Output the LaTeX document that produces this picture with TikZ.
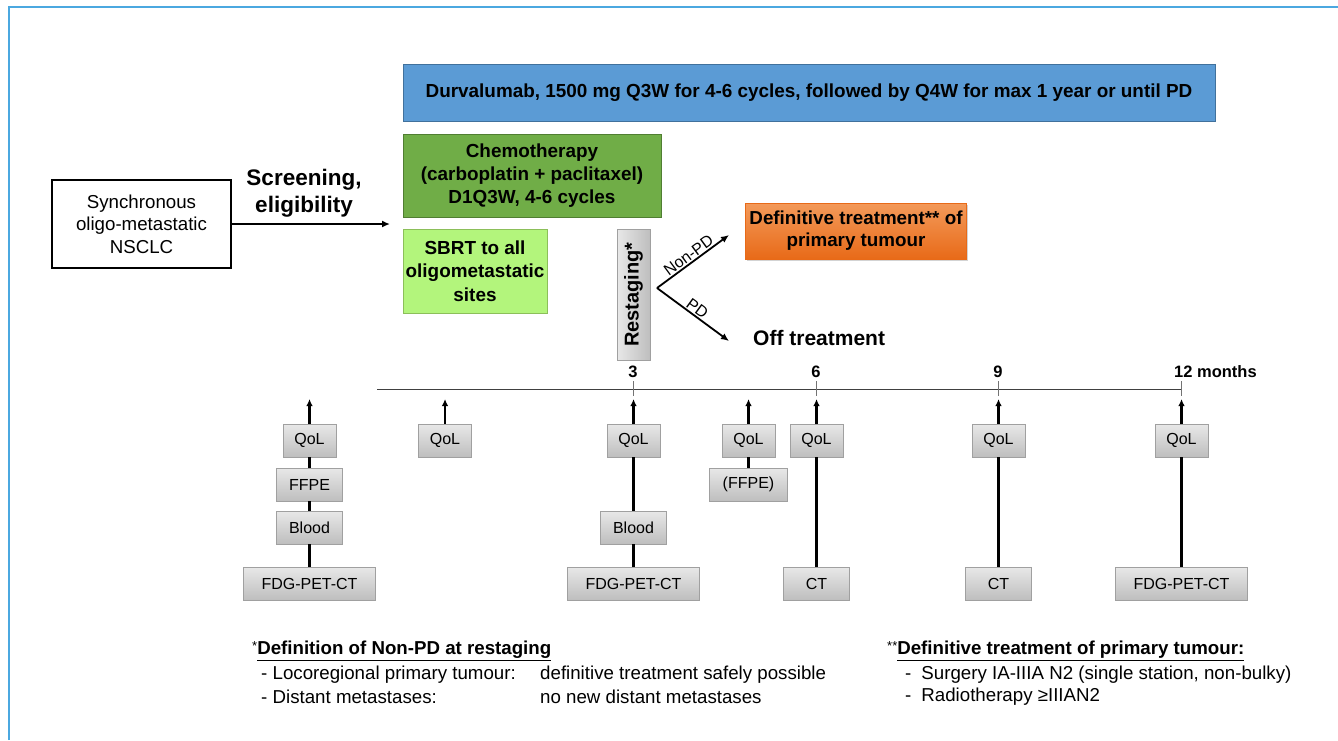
\documentclass[tikz,border=0pt]{standalone}
\usepackage{fontspec}
\setmainfont{Liberation Sans}
\usetikzlibrary{arrows.meta,shadows}
\definecolor{frameblue}{HTML}{4BA8E0}
\definecolor{durfill}{HTML}{5B9BD5}
\definecolor{durdraw}{HTML}{41719C}
\definecolor{chemofill}{HTML}{70AD47}
\definecolor{chemodraw}{HTML}{507E32}
\definecolor{sbrtfill}{HTML}{B3F57C}
\definecolor{sbrtdraw}{HTML}{8CBF5A}
\definecolor{orangetop}{HTML}{F39A5A}
\definecolor{orangebot}{HTML}{E86A18}
\definecolor{gtop}{HTML}{E8E8E8}
\definecolor{gbot}{HTML}{BEBEBE}
\definecolor{gdraw}{HTML}{A0A0A0}
\tikzset{
  colbox/.style={draw=#1, line width=0.8pt, inner sep=0pt, align=center},
  tbox/.style={draw=gdraw, line width=0.8pt, top color=gtop, bottom color=gbot, minimum height=33pt, inner sep=0pt, font=\fontsize{16}{18}\selectfont},
  conn/.style={line width=2.2pt, black},
  uparrow/.style={line width=2.2pt, black, -{Latex[length=7pt,width=6.5pt]}},
  mainarrow/.style={line width=1.8pt, black, -{Latex[length=8pt,width=7pt]}},
  fnote/.style={anchor=west, inner sep=0pt, font=\fontsize{18.7}{22}\selectfont},
  mlabel/.style={font=\bfseries\fontsize{16.5}{19}\selectfont},
  blabel/.style={midway, sloped, above, inner sep=1pt, font=\fontsize{16}{18}\selectfont},
}
\begin{document}
\begin{tikzpicture}[x=1pt,y=-1pt]
\useasboundingbox (0,0) rectangle (1338,740);
% frame
\draw[frameblue, line width=1.2pt] (9,740) -- (9,7) -- (1338,7);

% top boxes
\node[colbox=durdraw, fill=durfill, minimum width=812pt, minimum height=57pt, font=\bfseries\fontsize{18.9}{22}\selectfont] (dur) at (809,92.5) {Durvalumab, 1500 mg Q3W for 4-6 cycles, followed by Q4W for max 1 year or until PD};
\node[colbox=chemodraw, fill=chemofill, minimum width=258pt, minimum height=83pt, font=\bfseries\fontsize{18.9}{23}\selectfont] (chemo) at (532,175.5) {Chemotherapy\\(carboplatin + paclitaxel)\\D1Q3W, 4-6 cycles};
\node[colbox=sbrtdraw, fill=sbrtfill, minimum width=144pt, minimum height=84pt, font=\bfseries\fontsize{18.9}{23.5}\selectfont] (sbrt) at (475,271) {SBRT to all\\oligometastatic\\sites};
\node[draw=gdraw, line width=0.8pt, left color=gtop, right color=gbot, minimum width=33pt, minimum height=131pt, inner sep=0pt] (rest) at (633.5,294.5) {};
\node[rotate=90, font=\bfseries\fontsize{20}{23}\selectfont, inner sep=0pt] (resttext) at (rest.center) {Restaging*};
\node[colbox=orangebot, top color=orangetop, bottom color=orangebot, minimum width=221pt, minimum height=56pt, font=\bfseries\fontsize{18.8}{22}\selectfont, drop shadow={shadow xshift=1.5pt, shadow yshift=-2pt, opacity=0.35}] (defin) at (856,231) {Definitive treatment** of\\primary tumour};
\node[font=\bfseries\fontsize{21}{24}\selectfont, anchor=west, inner sep=0pt] (off) at (753,338) {Off treatment};

\node[draw=black, line width=1.4pt, minimum width=179pt, minimum height=88pt, align=center, inner sep=0pt, font=\fontsize{18.7}{22.5}\selectfont] (sync) at (141.5,224) {Synchronous\\oligo-metastatic\\NSCLC};
\coordinate (scrEnd) at (390,224);
\draw[mainarrow] (sync.east) -- (scrEnd);
\node[font=\bfseries\fontsize{22.5}{27}\selectfont, align=center, inner sep=0pt] (scr) at (304,193) {Screening,\\eligibility};

% branch
\coordinate (br) at (657,288);
\coordinate (npEnd) at (729,235);
\coordinate (pdEnd) at (729,341);
\draw[mainarrow] (br) -- node[blabel] {Non-PD} (npEnd);
\draw[mainarrow] (br) -- node[blabel] {PD} (pdEnd);

% timeline
\coordinate (tl0) at (377,389);
\coordinate (tl12) at (1181,389);
\draw[line width=1pt, black!75] (tl0) -- (tl12);
\foreach \x in {633,816,998,1181}{
  \draw[line width=0.9pt, black!55] (\x,381) -- (\x,396);
}
\node[mlabel] (m3) at (633,372) {3};
\node[mlabel] (m6) at (816,372) {6};
\node[mlabel] (m9) at (998,372) {9};
\node[mlabel, anchor=west, inner sep=0pt] (m12) at (1174,372) {12 months};

% column 1 (baseline)
\node[tbox, minimum width=53pt] (q1) at (309.5,440.5) {QoL};
\node[tbox, minimum width=66pt] (f1) at (309.5,484.5) {FFPE};
\node[tbox, minimum width=66pt] (b1) at (309.5,527.5) {Blood};
\node[tbox, minimum width=132pt] (p1) at (309.5,583.5) {FDG-PET-CT};
\coordinate (a1) at (309.5,399);
\draw[conn] (p1.north) -- (b1.south);
\draw[conn] (b1.north) -- (f1.south);
\draw[conn] (f1.north) -- (q1.south);
\draw[uparrow] (q1.north) -- (a1);

% column 2
\node[tbox, minimum width=53pt] (q2) at (445,440.5) {QoL};
\coordinate (a2) at (445,399);
\draw[uparrow] (q2.north) -- (a2);

% column 3 (3 months)
\node[tbox, minimum width=53pt] (q3) at (633.5,440.5) {QoL};
\node[tbox, minimum width=66pt] (b3) at (633.5,527.5) {Blood};
\node[tbox, minimum width=132pt] (p3) at (633.5,583.5) {FDG-PET-CT};
\coordinate (a3) at (633.5,399);
\draw[conn] (p3.north) -- (b3.south);
\draw[conn] (b3.north) -- (q3.south);
\draw[uparrow] (q3.north) -- (a3);

% column 4
\node[tbox, minimum width=53pt] (q4) at (748.5,440.5) {QoL};
\node[tbox, minimum width=78pt] (f4) at (748.5,484.5) {(FFPE)};
\coordinate (a4) at (748.5,399);
\draw[conn] (f4.north) -- (q4.south);
\draw[uparrow] (q4.north) -- (a4);

% column 5 (6 months)
\node[tbox, minimum width=53pt] (q5) at (816.5,440.5) {QoL};
\node[tbox, minimum width=66pt] (c5) at (816.5,583.5) {CT};
\coordinate (a5) at (816.5,399);
\draw[conn] (c5.north) -- (q5.south);
\draw[uparrow] (q5.north) -- (a5);

% column 6 (9 months)
\node[tbox, minimum width=53pt] (q6) at (998.5,440.5) {QoL};
\node[tbox, minimum width=66pt] (c6) at (998.5,583.5) {CT};
\coordinate (a6) at (998.5,399);
\draw[conn] (c6.north) -- (q6.south);
\draw[uparrow] (q6.north) -- (a6);

% column 7 (12 months)
\node[tbox, minimum width=53pt] (q7) at (1181.5,440.5) {QoL};
\node[tbox, minimum width=132pt] (p7) at (1181.5,583.5) {FDG-PET-CT};
\coordinate (a7) at (1181.5,399);
\draw[conn] (p7.north) -- (q7.south);
\draw[uparrow] (q7.north) -- (a7);

% footnotes
\node[fnote] (fn1) at (252,651) {\raisebox{4pt}{\fontsize{13}{15}\selectfont *}\underline{\textbf{Definition of Non-PD at restaging}}};
\node[fnote] (fn1a) at (261,675) {- Locoregional primary tumour:};
\node[fnote] (fn1b) at (540,675) {definitive treatment safely possible};
\node[fnote] (fn1c) at (261,697) {- Distant metastases:};
\node[fnote] (fn1d) at (540,697) {no new distant metastases};

\node[fnote] (fn2) at (887,651) {\raisebox{4pt}{\fontsize{13}{15}\selectfont **}\underline{\textbf{Definitive treatment of primary tumour:}}};
\node[fnote] (fn2a) at (905,675) {-\hspace{10pt}Surgery IA-IIIA N2 (single station, non-bulky)};
\node[fnote] (fn2b) at (905,697) {-\hspace{10pt}Radiotherapy ≥IIIAN2};
\end{tikzpicture}
\end{document}
